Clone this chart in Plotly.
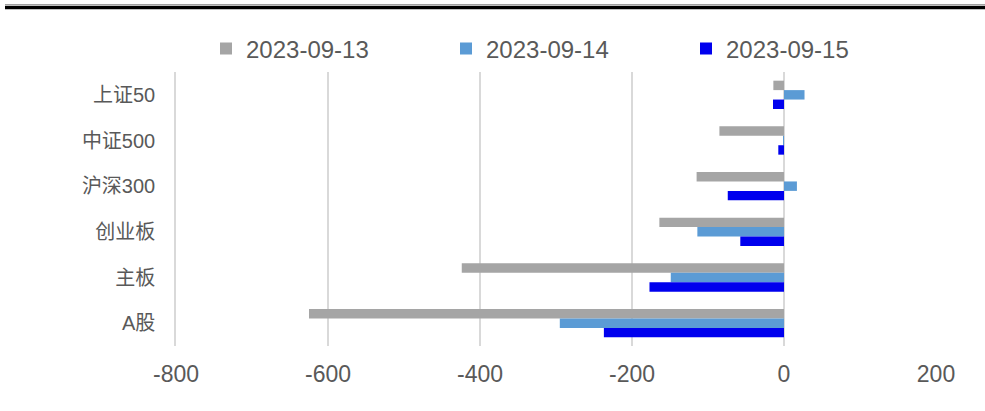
import plotly.graph_objects as go

categories = ["上证50", "中证500", "沪深300", "创业板", "主板", "A股"]
series_names = ["2023-09-13", "2023-09-14", "2023-09-15"]
s13 = [-14, -85, -115, -164, -424, -625]
s14 = [27, -1, 17, -114, -149, -295]
s15 = [-14.5, -7.5, -74, -57.5, -177, -237]
colors = ["#a5a5a5", "#5b9bd5", "#0000ee"]
x_ticks = [-800, -600, -400, -200, 0, 200]
x_tick_labels = ["-800", "-600", "-400", "-200", "0", "200"]

W, H = 985, 411
ML, MT = 176, 72
PW, PH = 760, 274
MR = W - ML - PW
MB = H - MT - PH

fig = go.Figure()
for name, vals, col in zip(series_names, [s13, s14, s15], colors):
    fig.add_trace(go.Bar(y=categories, x=vals, name=name, orientation="h",
                         marker=dict(color=col, line=dict(width=0))))

def py(page_y):
    return (H - MB - page_y) / PH

def pxx(page_x):
    return (page_x - ML) / PW

fig.update_layout(
    width=W, height=H,
    margin=dict(l=ML, r=MR, t=MT, b=MB, pad=0),
    paper_bgcolor="white", plot_bgcolor="white",
    barmode="group", bargap=0.38, bargroupgap=0,
    font=dict(family="Liberation Sans, Noto Sans CJK SC", color="#595959"),
    legend=dict(orientation="h", x=pxx(206), xanchor="left", y=py(49), yanchor="middle",
                font=dict(size=24, color="#595959"), traceorder="normal",
                entrywidth=195, entrywidthmode="pixels", bgcolor="rgba(0,0,0,0)"),
    showlegend=True,
    shapes=[
        dict(type="line", xref="paper", yref="paper", x0=pxx(5), x1=pxx(990),
             y0=py(4.5), y1=py(4.5), line=dict(color="#a0a0a0", width=1)),
        dict(type="line", xref="paper", yref="paper", x0=pxx(5), x1=pxx(990),
             y0=py(7.5), y1=py(7.5), line=dict(color="#000000", width=3.5)),
    ],
)
fig.update_xaxes(range=[-800, 200], tickvals=x_ticks, ticktext=x_tick_labels,
                 showgrid=True, gridcolor="#d9d9d9", gridwidth=1.5, zeroline=True,
                 zerolinecolor="#d9d9d9", zerolinewidth=1.5, showline=False,
                 ticks="", tickfont=dict(size=23, color="#595959"),
                 ticklabelstandoff=12, fixedrange=True)
fig.update_yaxes(autorange="reversed", showline=True, linecolor="#d9d9d9",
                 linewidth=1.5, showgrid=False, ticks="",
                 tickfont=dict(size=20, color="#595959",
                               family="Liberation Sans, Noto Sans CJK SC"),
                 ticklabelstandoff=15, fixedrange=True)

fig.write_html("out.html", config={"displayModeBar": False},
               post_script="document.body.style.margin='0';document.body.style.overflow='hidden';")
